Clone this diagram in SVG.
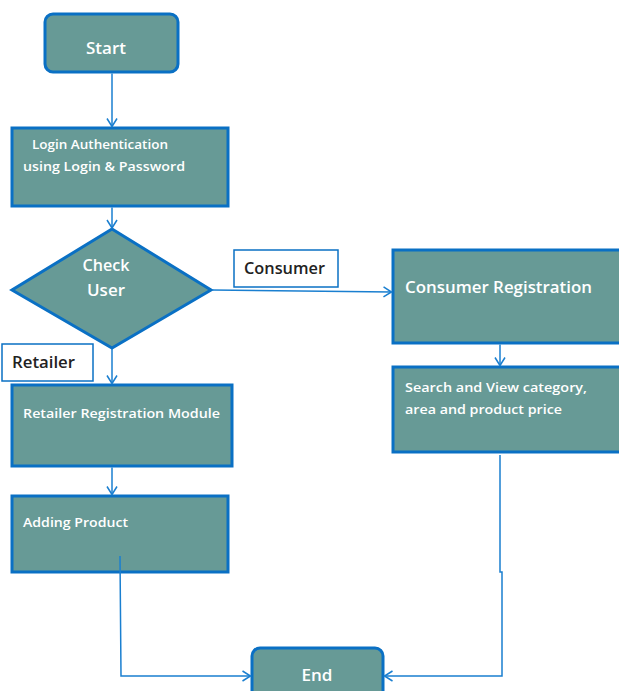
<svg xmlns="http://www.w3.org/2000/svg" width="619" height="691" viewBox="0 0 619 691">
<defs>
<marker id="arr" markerWidth="12" markerHeight="12" refX="10" refY="6" orient="auto" markerUnits="userSpaceOnUse">
<path d="M2,1 L10,6 L2,11" fill="none" stroke="#1a7fd0" stroke-width="1.5"/>
</marker>
</defs>
<style>
.n{fill:#679a96;stroke:#0a70c4;stroke-width:3}
.t{fill:#fff;font-family:"Open Sans","Liberation Sans",sans-serif;font-weight:600}
.lb{fill:#fff;stroke:#0a70c4;stroke-width:1.5}
.lt{fill:#222;font-family:"Open Sans","Liberation Sans",sans-serif;font-weight:600;font-size:16px}
.c{fill:none;stroke:#1a7fd0;stroke-width:1.5;marker-end:url(#arr)}
</style>
<rect width="619" height="691" fill="#fff"/>
<g id="start">
<rect class="n" x="45" y="14" width="133" height="58" rx="8"/>
<text class="t" x="106" y="54" font-size="17" text-anchor="middle" textLength="40" lengthAdjust="spacingAndGlyphs">Start</text>
</g>
<g id="login">
<rect class="n" x="12" y="128" width="216" height="78"/>
<text class="t" x="32" y="149" font-size="13" textLength="136" lengthAdjust="spacingAndGlyphs">Login Authentication</text>
<text class="t" x="23" y="171" font-size="13" textLength="162" lengthAdjust="spacingAndGlyphs">using Login &amp; Password</text>
</g>
<g id="check">
<polygon class="n" points="112,229 211,290 112,348 12,290"/>
<text class="t" x="106" y="271" font-size="17" text-anchor="middle" textLength="47" lengthAdjust="spacingAndGlyphs">Check</text>
<text class="t" x="106" y="296" font-size="17" text-anchor="middle" textLength="38" lengthAdjust="spacingAndGlyphs">User</text>
</g>
<g id="label-consumer">
<rect class="lb" x="234" y="250" width="104" height="37"/>
<text class="lt" x="244" y="274" textLength="81" lengthAdjust="spacingAndGlyphs">Consumer</text>
</g>
<g id="consumer-registration">
<rect class="n" x="393" y="250" width="230" height="93"/>
<text class="t" x="405" y="293" font-size="17" textLength="187" lengthAdjust="spacingAndGlyphs">Consumer Registration</text>
</g>
<g id="search">
<rect class="n" x="393" y="367" width="230" height="85"/>
<text class="t" x="405" y="392" font-size="13" textLength="182" lengthAdjust="spacingAndGlyphs">Search and View category,</text>
<text class="t" x="405" y="414" font-size="13" textLength="157" lengthAdjust="spacingAndGlyphs">area and product price</text>
</g>
<g id="label-retailer">
<rect class="lb" x="2" y="344" width="91" height="37"/>
<text class="lt" x="12" y="368" textLength="63" lengthAdjust="spacingAndGlyphs">Retailer</text>
</g>
<g id="retailer-registration">
<rect class="n" x="12" y="385" width="220" height="81"/>
<text class="t" x="23" y="418" font-size="13" textLength="197" lengthAdjust="spacingAndGlyphs">Retailer Registration  Module</text>
</g>
<g id="adding-product">
<rect class="n" x="12" y="496" width="216" height="76"/>
<text class="t" x="23" y="527" font-size="13" textLength="105" lengthAdjust="spacingAndGlyphs">Adding  Product</text>
</g>
<g id="end">
<rect class="n" x="252" y="648" width="131" height="52" rx="8"/>
<text class="t" x="317" y="681" font-size="17" text-anchor="middle" textLength="31" lengthAdjust="spacingAndGlyphs">End</text>
</g>
<g id="connectors">
<path class="c" d="M112,73.5 L112,126.5"/>
<path class="c" d="M112,207.5 L112,228"/>
<path class="c" d="M212,290 L391.5,292"/>
<path class="c" d="M112,349 L112,383.5"/>
<path class="c" d="M112,467.5 L112,494.5"/>
<path class="c" d="M500,344.5 L500,365.5"/>
<path class="c" d="M120,556 L121,676 L250.5,676"/>
<path class="c" d="M500,455 L500,572 L502,572 L502,676 L384.5,676"/>
</g>
</svg>
